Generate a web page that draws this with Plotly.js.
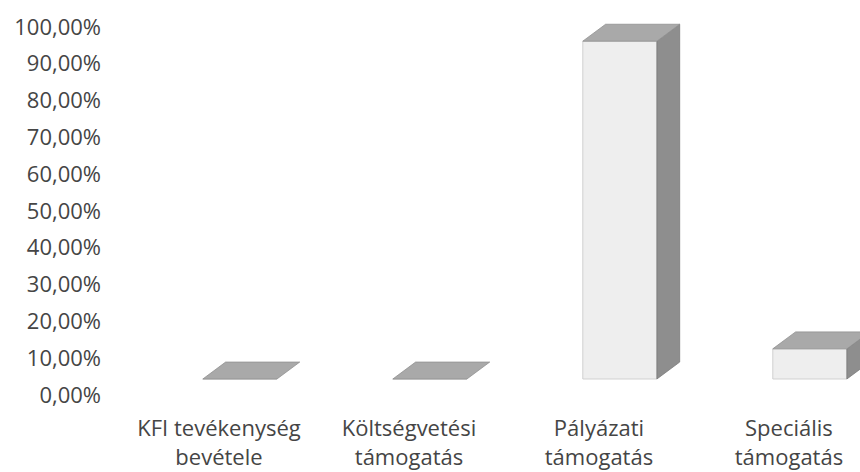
<!DOCTYPE html>
<html>
<head>
<meta charset="utf-8">
<script src="https://cdn.plot.ly/plotly-3.0.1.min.js"></script>
<style>html,body{margin:0;padding:0;background:#fff;}#chart{width:860px;height:472px;}</style>
</head>
<body>
<div id="chart"></div>
<script>
// ---- data ----
var categories = ['KFI tevékenység<br>bevétele', 'Költségvetési<br>támogatás', 'Pályázati<br>támogatás', 'Speciális<br>támogatás'];
var values = [0, 0, 91.8, 8.2];
var yTicks = [0, 10, 20, 30, 40, 50, 60, 70, 80, 90, 100];
var yTickText = yTicks.map(function (v) { return v.toFixed(2).replace('.', ',') + '%'; });

// ---- 3D look parameters (styling, not data) ----
var barOffset = 0.11;   // shift of the front face from category centre (x units)
var barWidth = 0.39;    // front face width (x units)
var depthX = 0.12;      // depth offset in x units
var depthY = 4.6;       // depth offset in y2 units

var idx = categories.map(function (c, i) { return i; });
var frontX = idx.map(function (i) { return i + barOffset; });

var topX = [], topY = [], sideX = [], sideY = [];
idx.forEach(function (i) {
  var v = values[i];
  var xl = i + barOffset - barWidth / 2, xr = i + barOffset + barWidth / 2;
  topX.push(xl, xr, xr + depthX, xl + depthX, xl, null);
  topY.push(v, v, v + depthY, v + depthY, v, null);
  if (v > 0) {
    sideX.push(xr, xr + depthX, xr + depthX, xr, xr, null);
    sideY.push(0, depthY, v + depthY, v, 0, null);
  }
});

var traces = [
  {
    // invisible trace that anchors the visible value axis
    type: 'scatter', mode: 'none', x: idx, y: values, yaxis: 'y',
    hoverinfo: 'skip', showlegend: false
  },
  {
    type: 'bar', x: frontX, y: values, width: barWidth, yaxis: 'y2',
    marker: {color: '#eeeeee', line: {color: '#d0d0d0', width: 1}},
    hoverinfo: 'skip', showlegend: false
  },
  {
    type: 'scatter', mode: 'lines', x: sideX, y: sideY, yaxis: 'y2',
    fill: 'toself', fillcolor: '#8e8e8e', line: {color: '#7a7a7a', width: 0.8},
    hoverinfo: 'skip', showlegend: false
  },
  {
    type: 'scatter', mode: 'lines', x: topX, y: topY, yaxis: 'y2',
    fill: 'toself', fillcolor: '#a9a9a9', line: {color: '#909090', width: 0.8},
    hoverinfo: 'skip', showlegend: false
  }
];

var layout = {
  width: 860, height: 472,
  margin: {l: 124, r: 0, t: 10, b: 77},
  paper_bgcolor: '#ffffff', plot_bgcolor: '#ffffff',
  font: {family: 'Open Sans, sans-serif', size: 22, color: '#454545'},
  showlegend: false,
  xaxis: {
    range: [-0.5, 3.374], tickmode: 'array', tickvals: idx, ticktext: categories,
    showgrid: false, zeroline: false, showline: false, ticks: '',
    ticklabelstandoff: 18, fixedrange: true
  },
  yaxis: {
    range: [0, 104.6], tickmode: 'array', tickvals: yTicks, ticktext: yTickText,
    showgrid: false, zeroline: false, showline: false, ticks: '',
    ticklabelstandoff: 22, fixedrange: true
  },
  yaxis2: {
    overlaying: 'y', range: [-4.35, 100.27], visible: false, fixedrange: true
  }
};

Plotly.newPlot('chart', traces, layout, {displayModeBar: false, staticPlot: true});
</script>
</body>
</html>
